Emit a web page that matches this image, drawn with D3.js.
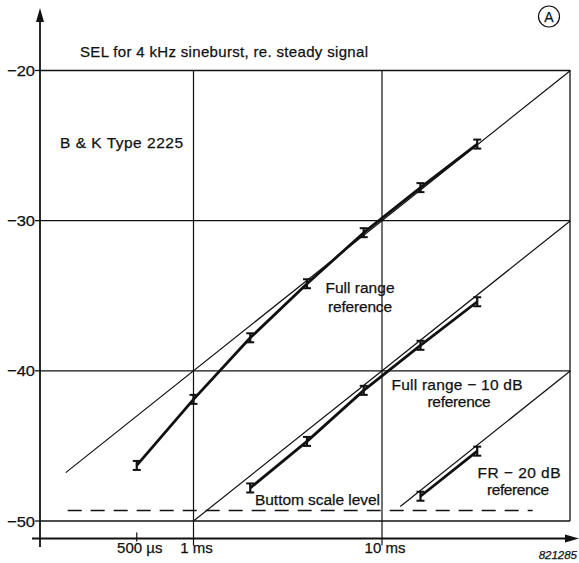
<!DOCTYPE html>
<html>
<head>
<meta charset="utf-8">
<script src="https://cdn.jsdelivr.net/npm/d3@7"></script>
<style>
  html, body { margin: 0; padding: 0; background: #fff; }
  svg { display: block; }
  text { font-family: "Liberation Sans", Arial, Helvetica, sans-serif; fill: #111; stroke: #111; stroke-width: 0.25; }
</style>
</head>
<body>
<svg id="chart" width="579" height="563"></svg>
<script>
// Burst durations (ms) and measured SEL (dB re. steady signal) for each reference range
const durationsFR = [0.5, 1, 2, 4, 8, 16, 32];
const selFR = [-46.3, -41.9, -37.8, -34.2, -30.8, -27.8, -24.9];

const durationsFR10 = [2, 4, 8, 16, 32];
const selFR10 = [-47.8, -44.7, -41.3, -38.3, -35.4];

const durationsFR20 = [16, 32];
const selFR20 = [-48.35, -45.35];

// Half height of the measurement spread drawn at each point (dB)
const spreadDb = 0.3;

// Theoretical references: offset (dB) and start duration (ms); all end at 100 ms
const refOffsets = [0, -10, -20];
const refStartMs = [0.21, 1, 12.5];
const refEndMs = 100;

// Lowest indicated level of the bottom scale (dB) and its extent (ms)
const bottomScaleLevel = -49.3;
const bottomScaleSpanMs = [0.215, 63];

// Axis ticks
const yTicks = [-50, -40, -30, -20];
const yTickLabels = ["\u221250", "\u221240", "\u221230", "\u221220"];
const xTicksMs = [0.5, 1, 10];
const xTickLabels = ["500 \u00b5s", "1 ms", "10 ms"];
const xGridMs = [1, 10];

const svg = d3.select("#chart");
const ink = "#111";

const x = d3.scaleLog().domain([1, 10]).range([193.5, 382]);
const y = d3.scaleLinear().domain([-50, -20]).range([521, 70.5]);

const xLeft = 40, xRight = 570;
const xAxisY = 538.5;

// Horizontal grid lines at each decade of dB
svg.append("g").selectAll("line").data(yTicks).join("line")
  .attr("x1", xLeft).attr("x2", xRight)
  .attr("y1", d => y(d)).attr("y2", d => y(d))
  .attr("stroke", ink).attr("stroke-width", 1.3);

// Right frame edge
svg.append("line")
  .attr("x1", xRight).attr("x2", xRight)
  .attr("y1", y(-20)).attr("y2", y(-50))
  .attr("stroke", ink).attr("stroke-width", 1.3);

// Vertical grid lines at 1 ms and 10 ms, running through the time axis
svg.append("g").selectAll("line").data(xGridMs).join("line")
  .attr("x1", d => x(d)).attr("x2", d => x(d))
  .attr("y1", y(-20)).attr("y2", xAxisY + 7)
  .attr("stroke", ink).attr("stroke-width", 1.2);

// Small tick at 500 µs
svg.append("line")
  .attr("x1", x(0.5)).attr("x2", x(0.5))
  .attr("y1", xAxisY - 6).attr("y2", xAxisY + 3)
  .attr("stroke", ink).attr("stroke-width", 1.2);

// Y axis with arrow
svg.append("line")
  .attr("x1", xLeft).attr("x2", xLeft)
  .attr("y1", 547).attr("y2", 18)
  .attr("stroke", ink).attr("stroke-width", 1.8);
svg.append("path")
  .attr("d", `M${xLeft},8 L${xLeft - 4},22 L${xLeft + 4},22 Z`)
  .attr("fill", ink);

// X axis with arrow
svg.append("line")
  .attr("x1", 32).attr("x2", 570)
  .attr("y1", xAxisY).attr("y2", xAxisY)
  .attr("stroke", ink).attr("stroke-width", 1.8);
svg.append("path")
  .attr("d", `M579,${xAxisY} L565,${xAxisY - 4} L565,${xAxisY + 4} Z`)
  .attr("fill", ink);

// Y tick marks and labels
svg.append("g").selectAll("line").data(yTicks).join("line")
  .attr("x1", xLeft - 5).attr("x2", xLeft)
  .attr("y1", d => y(d)).attr("y2", d => y(d))
  .attr("stroke", ink).attr("stroke-width", 1.3);
svg.append("g").selectAll("text").data(yTicks).join("text")
  .attr("x", 35).attr("y", d => y(d) + 5.5)
  .attr("text-anchor", "end")
  .attr("font-size", 15.5)
  .attr("textLength", 28).attr("lengthAdjust", "spacingAndGlyphs")
  .text((d, i) => yTickLabels[i]);

// X tick labels
svg.append("g").selectAll("text").data(xTicksMs).join("text")
  .attr("x", d => x(d) + 3).attr("y", 553)
  .attr("text-anchor", "middle")
  .attr("font-size", 15)
  .text((d, i) => xTickLabels[i]);

// Reference lines (10 dB per decade)
const refLine = d3.line().x(d => x(d[0])).y(d => y(d[1]));
refOffsets.forEach((off, i) => {
  const pts = [refStartMs[i], refEndMs].map(t => [t, -30 + off + 10 * Math.log10(t / 10)]);
  svg.append("path")
    .attr("d", refLine(pts))
    .attr("fill", "none").attr("stroke", ink).attr("stroke-width", 1.2);
});

// Bottom scale level (dashed)
svg.append("line")
  .attr("x1", x(bottomScaleSpanMs[0])).attr("x2", x(bottomScaleSpanMs[1]))
  .attr("y1", y(bottomScaleLevel)).attr("y2", y(bottomScaleLevel))
  .attr("stroke", ink).attr("stroke-width", 1.3)
  .attr("stroke-dasharray", "14,9");

// Measured series
const series = [
  { t: durationsFR, v: selFR },
  { t: durationsFR10, v: selFR10 },
  { t: durationsFR20, v: selFR20 }
];
series.forEach(s => {
  const pts = s.t.map((t, i) => [t, s.v[i]]);
  svg.append("path")
    .attr("d", refLine(pts))
    .attr("fill", "none").attr("stroke", ink)
    .attr("stroke-width", 2.8).attr("stroke-linejoin", "round");
  const g = svg.append("g");
  pts.forEach(p => {
    const cx = x(p[0]);
    g.append("line")
      .attr("x1", cx).attr("x2", cx)
      .attr("y1", y(p[1] - spreadDb)).attr("y2", y(p[1] + spreadDb))
      .attr("stroke", ink).attr("stroke-width", 2.2);
    [p[1] - spreadDb, p[1] + spreadDb].forEach(v => {
      g.append("line")
        .attr("x1", cx - 4).attr("x2", cx + 4)
        .attr("y1", y(v)).attr("y2", y(v))
        .attr("stroke", ink).attr("stroke-width", 2);
    });
  });
});

// Annotations
function label(txt, xPos, yPos, size, anchor, len) {
  const t = svg.append("text")
    .attr("x", xPos).attr("y", yPos)
    .attr("font-size", size)
    .attr("text-anchor", anchor || "start")
    .text(txt);
  if (len) t.attr("textLength", len).attr("lengthAdjust", "spacing");
  return t;
}
label("SEL for 4 kHz sineburst, re. steady signal", 80, 57, 15, "start", 288);
label("B & K Type 2225", 60, 148, 15.5, "start", 123);
label("Full range", 360, 293, 15.5, "middle", 69);
label("reference", 360, 312, 15.5, "middle", 64);
label("Full range \u2212 10 dB", 457, 390, 15.5, "middle", 131);
label("reference", 459, 407, 15.5, "middle", 63);
label("FR \u2212 20 dB", 519, 478, 15.5, "middle", 83);
label("reference", 518, 495, 15.5, "middle", 62);
label("Buttom scale level", 255, 505, 15.5, "start", 125);
label("821285", 577, 559, 11.5, "end").attr("font-style", "italic");

// Circled panel letter
svg.append("circle")
  .attr("cx", 549).attr("cy", 16.5).attr("r", 10.5)
  .attr("fill", "none").attr("stroke", ink).attr("stroke-width", 1.2);
label("A", 549, 21.5, 14, "middle");
</script>
</body>
</html>
